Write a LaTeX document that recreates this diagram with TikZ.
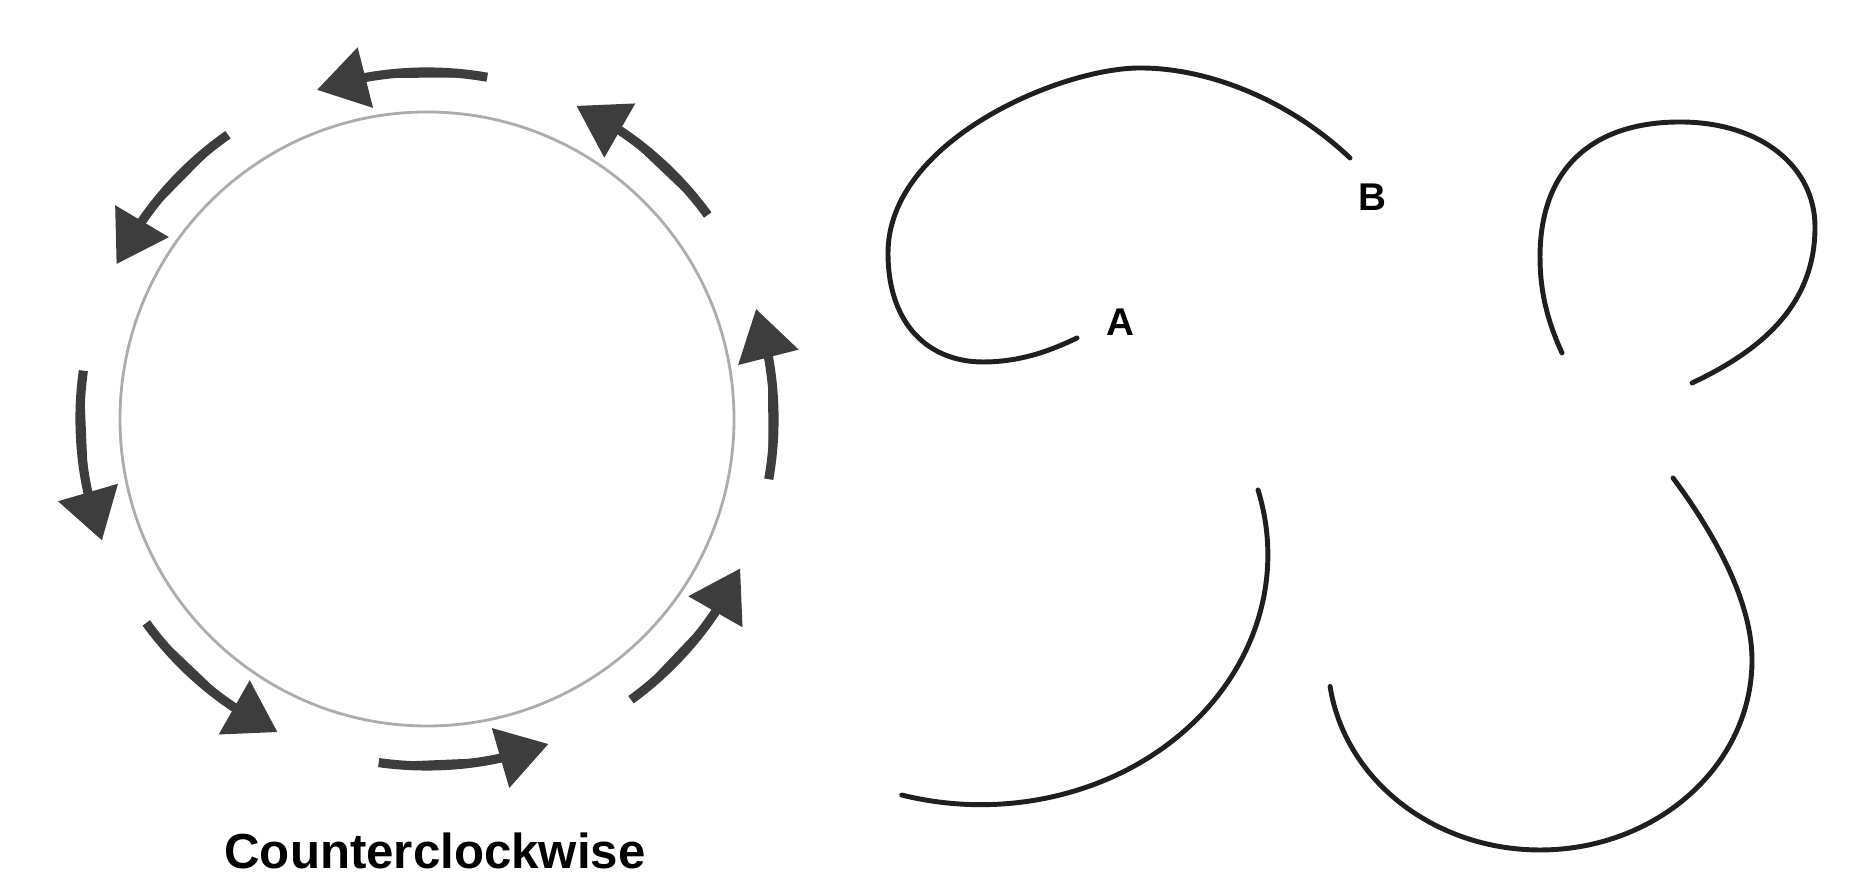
\documentclass[tikz,border=0pt]{standalone}
\usepackage{fontspec}
\setmainfont{Liberation Sans}
\usepackage{xcolor}
\usetikzlibrary{arrows.meta, calc}
\tikzset{
  ring/.style={draw=gray!65, line width=0.8pt},
  turnarrow/.style={-{Triangle[length=0.5cm, width=0.6cm]}, draw=black!76, fill=black!76, line width=2.6pt},
  loopline/.style={draw=black!88, line width=1.4pt, line cap=round},
  tag/.style={font=\bfseries\fontsize{11}{13}\selectfont, inner sep=0pt},
  caption/.style={font=\bfseries\fontsize{14}{16}\selectfont, inner sep=0pt},
}

\begin{document}
\begin{tikzpicture}
\useasboundingbox (0,0) rectangle (18.74,8.76);
% circle with the turning arrows
\coordinate (c) at (4.27,4.57);
\draw[ring] (c) circle (3.07);
\foreach \a in {80,36,-10,-54,-98,-144,172,125}
  \draw[turnarrow] ($(c)+(\a:3.47)$) arc[start angle=\a, end angle=\a+20, radius=3.47]
    -- ($(c)+(\a+28.5:3.47)$);
\node[caption] (ccw) at (4.35,0.25) {Counterclockwise};

% loops on the right
\draw[loopline] (13.50,7.18) .. controls (12.9,7.75) and (12.1,8.08) .. (11.40,8.08)
  .. controls (10.6,8.08) and (8.88,7.35) .. (8.88,6.23)
  .. controls (8.88,5.5) and (9.3,5.14) .. (9.83,5.14)
  .. controls (10.2,5.14) and (10.5,5.25) .. (10.77,5.38);
\node[tag] (labA) at (11.20,5.54) {A};
\node[tag] (labB) at (13.72,6.79) {B};
\draw[loopline] (15.62,5.23) .. controls (15.45,5.6) and (15.40,5.9) .. (15.40,6.19)
  .. controls (15.40,7.1) and (15.95,7.54) .. (16.80,7.54)
  .. controls (17.6,7.54) and (18.15,7.1) .. (18.15,6.49)
  .. controls (18.15,5.7) and (17.6,5.25) .. (16.92,4.93);
\draw[loopline] (12.58,3.86) arc[start angle=15, end angle=-106, x radius=2.87, y radius=2.5];
\draw[loopline] (16.73,3.98) .. controls (17.2,3.35) and (17.52,2.7) .. (17.52,2.16)
  arc[start angle=0, end angle=-172, x radius=2.12, y radius=1.9];
\end{tikzpicture}
\end{document}
